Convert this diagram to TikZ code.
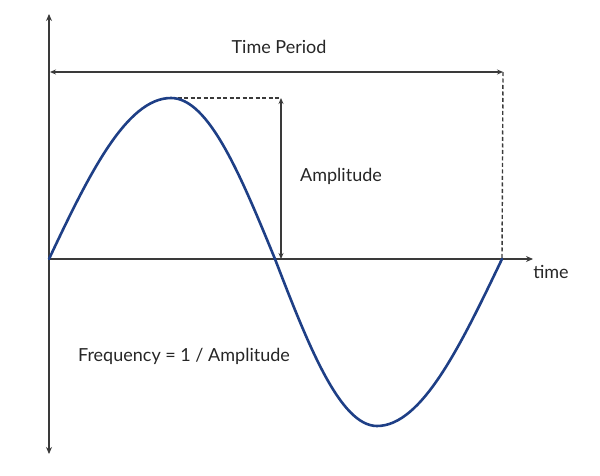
\documentclass[tikz,border=0pt]{standalone}
\usepackage{fontspec}
\setmainfont{Lato}
\usetikzlibrary{arrows.meta}
\definecolor{axisgray}{HTML}{3A3A3A}
\definecolor{wave}{HTML}{1E3F86}
\tikzset{
  axisline/.style={draw=axisgray, line width=2pt, -{Stealth[length=7pt,width=6pt]}},
  dimline/.style={draw=axisgray, line width=1.4pt},
  dashline/.style={draw=axisgray, line width=1.4pt, dash pattern=on 4pt off 2.5pt},
  wavestyle/.style={draw=wave, line width=2.6pt, line cap=round},
  lbl/.style={font=\fontsize{18}{20}\selectfont, text=black!85, inner sep=0pt},
  dimtips/.style={{Stealth[length=6pt,width=5pt]}-{Stealth[length=6pt,width=5pt]}}
}
\begin{document}
\begin{tikzpicture}[x=1pt,y=-1pt]
\useasboundingbox (0,0) rectangle (600,476);
\coordinate (O) at (49,259);
\coordinate (ytop) at (49,14);
\coordinate (ybot) at (49,454);
\coordinate (xend) at (533,259);
\coordinate (Pk) at (171,98);
\coordinate (Z1) at (275,259);
\coordinate (Tr) at (377,426);
\coordinate (Z2) at (502,259);
\coordinate (TPl) at (50,72);
\coordinate (TPr) at (503,72);
\coordinate (Atop) at (281,98);
\coordinate (Abot) at (281,259);
% axes
\draw[axisline] (O) -- (ytop);
\draw[axisline] (O) -- (ybot);
\draw[axisline] (O) -- (xend);
% time period
\draw[dimline, dimtips] (TPl) -- (TPr);
\draw[dashline] (TPr) -- (Z2);
% amplitude
\draw[dashline] (Pk) -- (Atop);
\draw[dimline, dimtips] (Atop) -- (Abot);
% wave
\draw[wavestyle] (O) .. controls (88,176.5) and (126,98) .. (Pk)
  .. controls (209,98) and (241,176.5) .. (Z1)
  .. controls (308,344.6) and (340,426) .. (Tr)
  .. controls (422,426) and (461,344.6) .. (Z2);
% labels
\node[lbl] (tp) at (279,47) {Time Period};
\node[lbl] (amp) at (341,176) {Amplitude};
\node[lbl] (tm) at (551,272) {time};
\node[lbl] (freq) at (184,356) {Frequency = 1 / Amplitude};
\end{tikzpicture}
\end{document}
